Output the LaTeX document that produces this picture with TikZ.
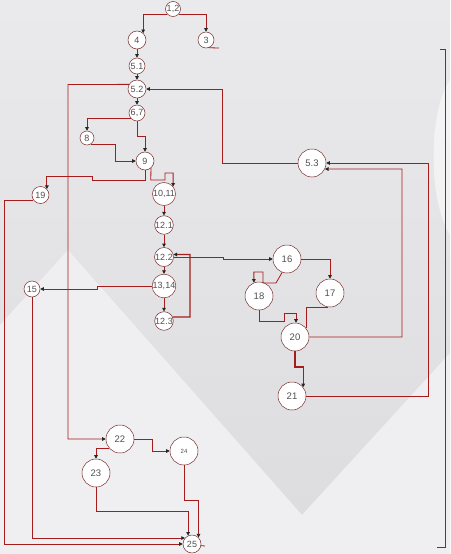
\documentclass[tikz,border=0pt]{standalone}
\usepackage{fontspec}
\setmainfont{Liberation Sans}
\usetikzlibrary{arrows.meta}
\definecolor{lc}{RGB}{165,28,28}
\definecolor{brk}{RGB}{180,20,20}
\definecolor{ndc}{RGB}{120,45,45}
\definecolor{txt}{RGB}{80,80,80}
\definecolor{bgA}{RGB}{234,234,236}
\definecolor{bgB}{RGB}{220,220,223}
\definecolor{bgL}{RGB}{239,239,241}
\tikzset{
  nd/.style={circle, draw=ndc, fill=white, line width=0.5pt, inner sep=0pt, text=txt, font=\fontsize{9}{9}\selectfont},
  big/.style={nd, minimum size=28pt, font=\fontsize{9.5}{9.5}\selectfont},
  e0/.style={draw=lc, line width=0.8pt},
  e/.style={e0, -{Triangle[length=3.6pt,width=3.6pt,color=black!85]}},
}
\begin{document}
\begin{tikzpicture}[x=1pt,y=-1pt]
\useasboundingbox (0,0) rectangle (450,554);
% background
\shade[top color=bgA, bottom color=bgB] (0,0) rectangle (450,554);
\fill[bgL] (0,325) -- (68,250) -- (302,515) -- (450,353) -- (450,554) -- (0,554) -- cycle;
\fill[white, opacity=0.5] (450,80) .. controls (428,112) and (428,200) .. (450,235) -- cycle;
% nodes
\node[nd, minimum size=15pt] (n12) at (173,9) {1,2};
\node[nd, minimum size=18pt] (n4) at (137,40) {4};
\node[nd, minimum size=16pt] (n3) at (206,40) {3};
\node[nd, minimum size=16pt] (n51) at (137,66) {5.1};
\node[nd, minimum size=18pt] (n52) at (137,89) {5.2};
\node[nd, minimum size=16pt] (n67) at (137,113) {6,7};
\node[nd, minimum size=14pt] (n8) at (87,138) {8};
\node[nd, minimum size=18pt] (n9) at (145,161) {9};
\node[big] (n53) at (312,163) {5.3};
\node[nd, minimum size=17pt] (n19) at (40.5,195) {19};
\node[nd, minimum size=18pt] (n1011) at (164,194) {10,11};
\node[nd, minimum size=18pt] (n121) at (164,225) {12.1};
\node[nd, minimum size=19pt] (n122) at (164,257) {12.2};
\node[nd, minimum size=20pt] (n1314) at (164,286) {13,14};
\node[nd, minimum size=18pt] (n123) at (164,321) {12.3};
\node[nd, minimum size=16pt] (n15) at (32,289) {15};
\node[big] (n16) at (287,259) {16};
\node[big] (n18) at (259,296) {18};
\node[big] (n17) at (330,293) {17};
\node[big] (n20) at (295,337) {20};
\node[big] (n21) at (292,396) {21};
\node[big] (n22) at (120,439) {22};
\node[big, font=\fontsize{6}{6}\selectfont] (n24) at (184,451) {24};
\node[big] (n23) at (96,473) {23};
\node[nd, minimum size=18pt] (n25) at (192,544) {25};
\coordinate (c3) at (219,48);
\coordinate (c25) at (205,546);
% connectors
\draw[e] (n12.220) -| (n4.48);
\draw[e] (n12.320) -| (n3.north);
\draw[e0] (n3.290) -- (c3);
\draw[e] (n4) -- (n51);
\draw[e] (n51) -- (n52);
\draw[e] (n52) -- (n67);
\draw[e] (n52.150) -- (68,84.5) |- (n22.west);
\draw[e] (n53.west) -| (222,89) -- (n52.east);
\draw[e] (n67.218) -| (n8.north);
\draw[e] (n67.south) -- (137,136) -| (n9.north);
\draw[e] (n8.300) -| (115,161) -- (n9.west);
\draw[e] (n9.south) -- (145,180) -- (92,180) -- (92,176) -| (n19.43);
\draw[e] (n9.310) -- (150.8,180) -- (165,180) -- (165,173) -| (n1011.39);
\draw[e] (n1011) -- (n121);
\draw[e] (n121) -- (n122);
\draw[e] (n122) -- (n1314);
\draw[e] (n1314) -- (n123);
\draw[e, line width=1.3pt] (n123.25) -| (190,254.5) -- (n122.15);
\draw[e] (n122.east) -- (223,257) -- (223,259) -- (n16.west);
\draw[e] (n1314.west) -- (97,286) -- (97,289) -- (n15.east);
\draw[e] (n16.east) -| (n17.north);
\draw[e] (n16.250) -- (276,283) -- (263,283) -- (263,272) -| (n18.111);
\draw[e] (n18.south) -- (259,321) -- (284,321) -- (284,313) -| (n20.86);
\draw[e0] (n17.260) -| (n20.38);
\draw[e] (n20.east) -| (402,169) -- (n53.-25);
\draw[e] (n21.east) -| (428,163) -- (n53.east);
\draw[e, line width=1.1pt] (n20.south) -- (295,367) -| (n21.38);
\draw[e] (n19.216) -| (4,544) -- (n25.west);
\draw[e] (n15.south) |- (n25.140);
\draw[e] (n23.south) -- (96,511) -| (n25.115);
\draw[e] (n24.south) -- (184,500) -| (n25.45);
\draw[e] (n22.east) -- (152,439) |- (n24.west);
\draw[e] (n22.220) -| (n23.north);
\draw[e0] (n25.-10) -- (c25);
% right bracket
\draw[brk, line width=1pt] (440,49) -- (445,49) -- (445,547) -- (437,547);
\end{tikzpicture}
\end{document}
